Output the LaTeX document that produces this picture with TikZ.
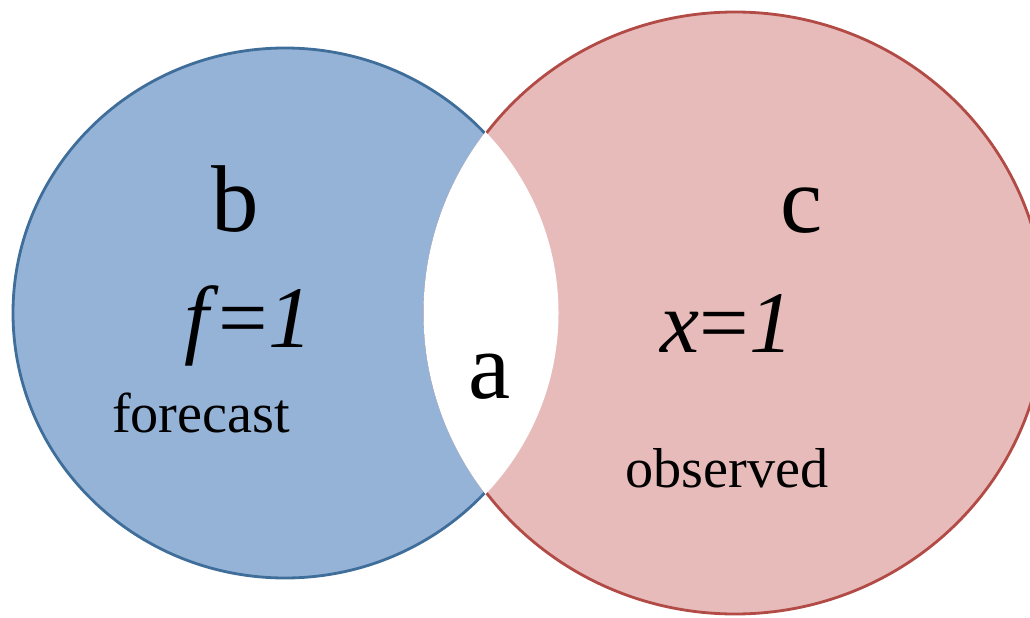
\documentclass[tikz,border=0pt]{standalone}
\usepackage{fontspec}
\setmainfont{Liberation Serif}
\usetikzlibrary{positioning}
\definecolor{fcblue}{RGB}{149,179,215}
\definecolor{fcedge}{RGB}{64,110,155}
\definecolor{obred}{RGB}{231,187,186}
\definecolor{obedge}{RGB}{178,74,70}
\tikzset{
  setblue/.style={fill=fcblue,draw=fcedge,line width=1.6pt},
  setred/.style={fill=obred,draw=obedge,line width=1.6pt},
  cell/.style={font=\fontsize{54}{54}\selectfont,inner sep=0pt,anchor=base},
  eqn/.style={font=\fontsize{50}{50}\selectfont,inner sep=0pt,anchor=base},
  tag/.style={font=\fontsize{32}{32}\selectfont,inner sep=0pt,anchor=base},
}

\begin{document}
\begin{tikzpicture}[x=0.02cm,y=-0.02cm]
  \useasboundingbox (0,0) rectangle (1030,618);
  \coordinate (fc) at (285,313);
  \coordinate (ob) at (735,313);
  % the two sets
  \draw[setblue] (fc) ellipse[x radius=272,y radius=265];
  \draw[setred] (ob) ellipse[x radius=310,y radius=301];
  % overlap left blank
  \begin{scope}
    \clip (fc) ellipse[x radius=273.5,y radius=266.5];
    \fill[white] (ob) ellipse[x radius=311.5,y radius=302.5];
  \end{scope}
  \node[cell] (b) at (235,232) {b};
  \node[cell] (a) at (490,398) {a};
  \node[cell] (c) at (802,233) {c};
  \node[eqn] (feq) at (248,347) {\textit{f}=\textit{1}};
  \node[eqn] (xeq) at (727,352) {\textit{x}=\textit{1}};
  \node[tag] (fcst) at (201,432) {forecast};
  \node[tag] (obs) at (727,487) {observed};
\end{tikzpicture}
\end{document}
